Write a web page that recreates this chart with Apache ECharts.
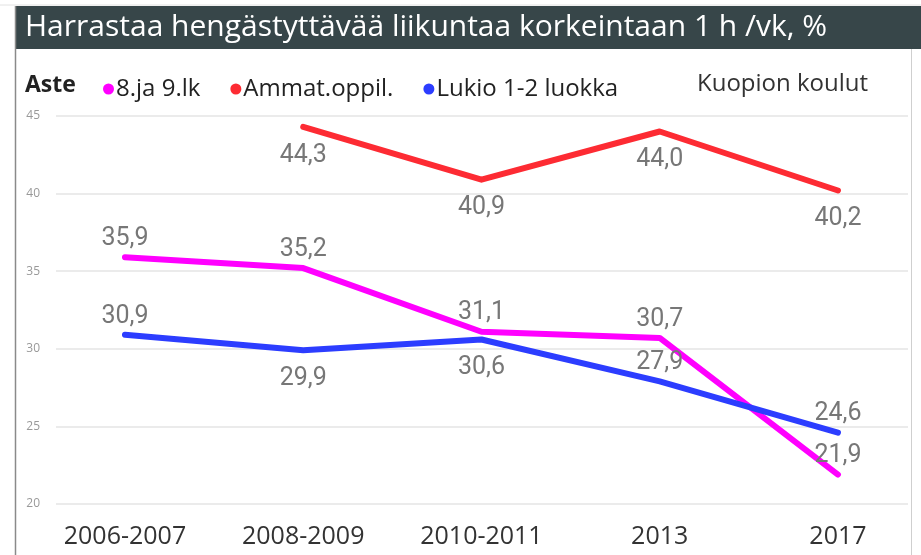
<!DOCTYPE html>
<html>
<head>
<meta charset="utf-8">
<script src="https://cdn.jsdelivr.net/npm/echarts@6/dist/echarts.min.js"></script>
<style>
	html, body { margin: 0; padding: 0; background: #fff; }
	#chart { width: 921px; height: 555px; }
</style>
</head>
<body>
<div id="chart"></div>
<script>
// data
const categories = ["2006-2007", "2008-2009", "2010-2011", "2013", "2017"];
const yleis = [35.9, 35.2, 31.1, 30.7, 21.9];      // 8.ja 9.lk
const ammat = [null, 44.3, 40.9, 44.0, 40.2];      // Ammat.oppil.
const lukio = [30.9, 29.9, 30.6, 27.9, 24.6];      // Lukio 1-2 luokka
const yTicks = [20, 25, 30, 35, 40, 45];

// where each Lukio label sits relative to its point
const lukioLabelSide = ["top", "bottom", "bottom", "top", "top"];

const fmt = (v) => v.toFixed(1).replace(".", ",");
const labelFont = "Roboto, sans-serif";
const uiFont = "'Open Sans', sans-serif";

const chartDom = document.getElementById("chart");
const myChart = echarts.init(chartDom);

function points(arr) {
	return arr.map((v, i) => [i, v]);
}

const baseLabel = {
	show: true,
	fontFamily: labelFont,
	fontSize: 25,
	color: "#777",
	formatter: (p) => fmt(p.value[1])
};

const lineBase = {
	type: "line",
	symbol: "circle",
	symbolSize: 0,
	showSymbol: true,
	lineStyle: {width: 6, cap: "round", join: "round"}
};

let option = {
	animation: false,
	textStyle: {fontFamily: uiFont},
	grid: {left: 56, right: 13, top: 116, bottom: 51},
	legend: {
		left: 98,
		top: 72,
		icon: "circle",
		itemWidth: 11,
		itemHeight: 11,
		itemGap: 30,
		textStyle: {fontSize: 24, color: "#222", padding: [0, 0, 0, -3]},
		data: ["8.ja 9.lk", "Ammat.oppil.", "Lukio 1-2 luokka"]
	},
	xAxis: {
		type: "value",
		min: -0.387,
		max: 4.393,
		axisLine: {show: false},
		axisTick: {show: false},
		splitLine: {show: false},
		axisLabel: {
			customValues: categories.map((c, i) => i),
			formatter: (v) => categories[v] || "",
			fontSize: 25,
			color: "#333",
			margin: 20
		}
	},
	yAxis: {
		type: "value",
		min: yTicks[0],
		max: yTicks[yTicks.length - 1],
		interval: 5,
		axisLine: {show: false},
		axisTick: {show: false},
		axisLabel: {fontSize: 12, color: "#999", margin: 16},
		splitLine: {lineStyle: {color: "#ebebeb", width: 2}}
	},
	graphic: [
		{type: "line", shape: {x1: 0, y1: 5, x2: 921, y2: 5}, style: {stroke: "#e2e2e2", lineWidth: 1}},
		{type: "rect", shape: {x: 15, y: 6, width: 906, height: 43}, style: {fill: "#374649"}},
		{type: "line", shape: {x1: 15.5, y1: 6, x2: 15.5, y2: 555}, style: {stroke: "#8a8a8a", lineWidth: 1.5}},
		{type: "line", shape: {x1: 911.5, y1: 49, x2: 911.5, y2: 555}, style: {stroke: "#cfcfcf", lineWidth: 1}},
		{
			type: "text", x: 25, y: 12,
			style: {
				text: "Harrastaa hengästyttävää liikuntaa korkeintaan 1 h /vk, %",
				fill: "#fff", fontSize: 30, fontFamily: uiFont
			}
		},
		{
			type: "text", left: 25, top: 74,
			style: {text: "Aste", fill: "#222", fontSize: 23, fontWeight: "bold", fontFamily: uiFont}
		},
		{
			type: "text", left: 697, top: 72,
			style: {text: "Kuopion koulut", fill: "#333", fontSize: 24, fontFamily: uiFont}
		}
	],
	series: [
		Object.assign({}, lineBase, {
			name: "8.ja 9.lk",
			data: points(yleis),
			itemStyle: {color: "#ff00ff"},
			label: Object.assign({}, baseLabel, {position: "top", distance: 6})
		}),
		Object.assign({}, lineBase, {
			name: "Ammat.oppil.",
			data: points(ammat),
			itemStyle: {color: "#fd2b33"},
			label: Object.assign({}, baseLabel, {position: "bottom", distance: 16})
		}),
		Object.assign({}, lineBase, {
			name: "Lukio 1-2 luokka",
			data: lukio.map((v, i) => ({
				value: [i, v],
				label: {position: lukioLabelSide[i], distance: lukioLabelSide[i] === "top" ? 6 : 16}
			})),
			itemStyle: {color: "#2c3dff"},
			label: baseLabel
		})
	]
};

option && myChart.setOption(option);
</script>
</body>
</html>
